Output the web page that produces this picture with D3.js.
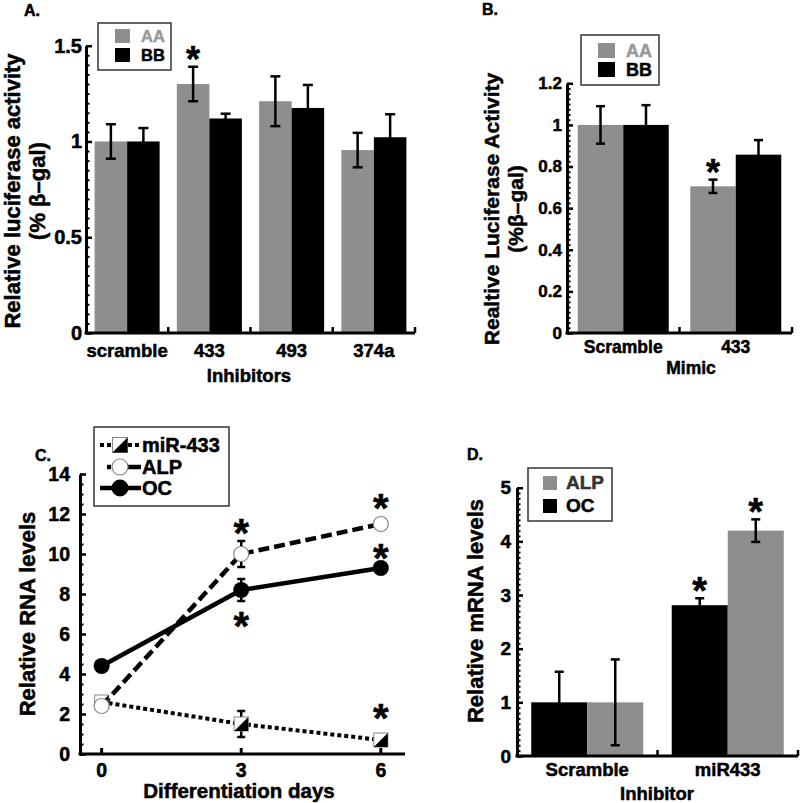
<!DOCTYPE html>
<html><head><meta charset="utf-8">
<script src="https://cdn.jsdelivr.net/npm/d3@7"></script>
<style>
body{margin:0;background:#fff}
svg text{font-family:"Liberation Sans",Arial,Helvetica,sans-serif;font-weight:bold}
</style>
</head><body>
<svg id="chart" width="800" height="803"></svg>
<script>
// ---------------- DATA ----------------
// Panel A
const catsA = ["scramble", "433", "493", "374a"];
const aaA = [1.0, 1.30, 1.21, 0.955];
const aaErrA = [0.09, 0.09, 0.13, 0.09];
const bbA = [1.0, 1.12, 1.175, 1.022];
const bbErrA = [0.07, 0.025, 0.12, 0.12];
const starA = [false, true, false, false];   // star above AA bar
const ticksA = [0, 0.5, 1, 1.5];
const tickLabelsA = ["0", "0.5", "1", "1.5"];

// Panel B
const catsB = ["Scramble", "433"];
const aaB = [1.0, 0.705];
const aaErrB = [0.09, 0.032];
const bbB = [1.0, 0.857];
const bbErrB = [0.095, 0.07];
const starB = [false, true];
const ticksB = [0, 0.2, 0.4, 0.6, 0.8, 1.0, 1.2];
const tickLabelsB = ["0", "0.2", "0.4", "0.6", "0.8", "1", "1.2"];

// Panel C
const daysC = [0, 3, 6];
const mirC = [2.6, 1.5, 0.7];
const mirErrC = [0, 0.65, 0];
const alpC = [2.4, 10.0, 11.5];
const alpErrC = [0, 0.65, 0.2];
const ocC = [4.4, 8.2, 9.3];
const ocErrC = [0, 0.55, 0.15];
const starDaysC = [3, 3, 6, 6, 6];
const starValsC = [11.45, 6.8, 12.7, 10.2, 2.2];
const ticksC = [0, 2, 4, 6, 8, 10, 12, 14];
const xTicksC = [0, 3, 6];

// Panel D
const catsD = ["Scramble", "miR433"];
const ocD = [1.0, 2.81];
const ocErrD = [0.57, 0.13];
const alpD = [1.0, 4.2];
const alpErrD = [0.8, 0.21];
const starOcD = [false, true];
const starAlpD = [false, true];
const ticksD = [0, 1, 2, 3, 4, 5];

// ---------------- DRAWING ----------------
const GRAY = "#8e8e8e";
const svg = d3.select("#chart");

function star(g, x, yc, fs) {
  g.append("text").attr("x", x).attr("y", yc + 0.56 * fs)
    .attr("text-anchor", "middle").attr("font-size", fs).attr("fill", "#000").text("*");
}

function yAxis(g, y, xLeft, ticks, labels, minorStep, fs, pad) {
  const ax = d3.axisLeft(y).tickValues(ticks).tickFormat((d, i) => labels[i])
    .tickSizeInner(-6).tickSizeOuter(0).tickPadding(pad);
  const ga = g.append("g").attr("transform", `translate(${xLeft},0)`).call(ax);
  ga.attr("font-size", fs).attr("font-family", null);
  ga.select(".domain").attr("stroke", "#000").attr("stroke-width", 3);
  ga.selectAll(".tick line").attr("stroke", "#000").attr("stroke-width", 2.5);
  ga.selectAll(".tick text").attr("fill", "#000");
  const [d0, d1] = y.domain();
  const minors = d3.range(d0, d1 + minorStep / 2, minorStep);
  const am = d3.axisLeft(y).tickValues(minors).tickFormat("").tickSizeInner(-3.5).tickSizeOuter(0);
  const gm = g.append("g").attr("transform", `translate(${xLeft},0)`).call(am);
  gm.select(".domain").remove();
  gm.selectAll(".tick line").attr("stroke", "#000").attr("stroke-width", 2);
}

function errBar(g, x, yTop, yBot, cap) {
  g.append("line").attr("x1", x).attr("x2", x).attr("y1", yTop).attr("y2", yBot)
    .attr("stroke", "#000").attr("stroke-width", 2.5);
  [yTop, yBot].forEach(yy => g.append("line").attr("x1", x - cap / 2).attr("x2", x + cap / 2)
    .attr("y1", yy).attr("y2", yy).attr("stroke", "#000").attr("stroke-width", 2.5));
}

function barPanel(cfg) {
  const g = svg.append("g");
  const y = d3.scaleLinear().domain([0, cfg.yMax]).range([cfg.yBottom, cfg.yTop]);
  const x = d3.scaleBand().domain(cfg.cats).range([cfg.xLeft, cfg.xRight]);
  const xs = d3.scaleBand().domain(cfg.series.map(s => s.key)).range([0, x.bandwidth()])
    .paddingInner(0).paddingOuter(cfg.pad);
  cfg.series.forEach(s => {
    g.selectAll(null).data(cfg.cats).join("rect")
      .attr("x", c => x(c) + xs(s.key)).attr("width", xs.bandwidth())
      .attr("y", (c, i) => y(s.vals[i])).attr("height", (c, i) => y(0) - y(s.vals[i]))
      .attr("fill", s.color);
  });
  cfg.series.forEach(s => {
    cfg.cats.forEach((c, i) => {
      const cx = x(c) + xs(s.key) + xs.bandwidth() / 2;
      errBar(g, cx, y(s.vals[i] + s.errs[i]), y(s.vals[i] - s.errs[i]), cfg.cap);
      if (s.stars && s.stars[i]) star(g, cx, y(s.vals[i] + s.errs[i]) - cfg.starGap, cfg.starFs);
    });
  });
  yAxis(g, y, cfg.xLeft, cfg.ticks, cfg.tickLabels, cfg.minor, cfg.tickFs, cfg.tickPad);
  // x axis
  g.append("line").attr("x1", cfg.xLeft - 1.5).attr("x2", cfg.xRight).attr("y1", y(0)).attr("y2", y(0))
    .attr("stroke", "#000").attr("stroke-width", 3);
  cfg.cats.forEach(c => {
    const bx = x(c) + x.bandwidth();
    g.append("line").attr("x1", bx).attr("x2", bx).attr("y1", y(0)).attr("y2", y(0) - 6)
      .attr("stroke", "#000").attr("stroke-width", 2.5);
    g.append("text").attr("x", x(c) + x.bandwidth() / 2).attr("y", cfg.catY)
      .attr("text-anchor", "middle").attr("font-size", cfg.catFs).text(c);
  });
  g.append("text").attr("x", cfg.xTitleX).attr("y", cfg.xTitleY).attr("text-anchor", "middle")
    .attr("font-size", cfg.catFs).text(cfg.xTitle);
  // y title
  cfg.yTitle.forEach((t, i) => {
    g.append("text").attr("transform", `translate(${cfg.yTitleX[i]},${cfg.yTitleCY}) rotate(-90)`)
      .attr("text-anchor", "middle").attr("dy", "0.35em").attr("font-size", cfg.yTitleFs).text(t);
  });
  // panel label
  g.append("text").attr("x", cfg.panelX).attr("y", cfg.panelY).attr("font-size", 16).text(cfg.panel);
  // legend
  const L = cfg.legend;
  g.append("rect").attr("x", L.x).attr("y", L.y).attr("width", L.w).attr("height", L.h)
    .attr("fill", "#fff").attr("stroke", "#333").attr("stroke-width", 1.5);
  L.items.forEach((it, i) => {
    g.append("rect").attr("x", L.sx).attr("y", L.sy[i]).attr("width", L.sw).attr("height", L.sh).attr("fill", it.color);
    g.append("text").attr("x", L.tx).attr("y", L.sy[i] + L.sh - 1).attr("font-size", L.fs)
      .attr("fill", it.textColor).text(it.label);
  });
}

// Panel A
barPanel({
  cats: catsA, yMax: 1.5, yBottom: 333, yTop: 45.7, xLeft: 86, xRight: 415, pad: 0.265,
  series: [{ key: "AA", vals: aaA, errs: aaErrA, color: GRAY, stars: starA },
           { key: "BB", vals: bbA, errs: bbErrA, color: "#000" }],
  cap: 10, starGap: 15, starFs: 36,
  ticks: ticksA, tickLabels: tickLabelsA, minor: 0.05, tickFs: 20, tickPad: 4,
  catY: 357, catFs: 18.5, xTitle: "Inhibitors", xTitleX: 249, xTitleY: 382,
  yTitle: ["Relative luciferase activity", "(% β–gal)"], yTitleX: [12, 37], yTitleCY: 191, yTitleFs: 22,
  panel: "A.", panelX: 24, panelY: 16,
  legend: { x: 98, y: 23, w: 73, h: 47, sx: 115, sy: [29, 48], sw: 15, sh: 14, tx: 141, fs: 16.5,
    items: [{ label: "AA", color: GRAY, textColor: "#9a9a9a" }, { label: "BB", color: "#000", textColor: "#000" }] }
});

// Panel B
barPanel({
  cats: catsB, yMax: 1.2, yBottom: 333, yTop: 83.3, xLeft: 567, xRight: 792, pad: 0.236,
  series: [{ key: "AA", vals: aaB, errs: aaErrB, color: GRAY, stars: starB },
           { key: "BB", vals: bbB, errs: bbErrB, color: "#000" }],
  cap: 9, starGap: 15, starFs: 36,
  ticks: ticksB, tickLabels: tickLabelsB, minor: 0.025, tickFs: 17, tickPad: 5,
  catY: 353, catFs: 17.5, xTitle: "Mimic", xTitleX: 691, xTitleY: 374,
  yTitle: ["Realtive Luciferase Activity", "(%β–gal)"], yTitleX: [492, 516], yTitleCY: 209, yTitleFs: 21,
  panel: "B.", panelX: 482, panelY: 15,
  legend: { x: 581, y: 35, w: 78, h: 50, sx: 598, sy: [43, 62], sw: 17, sh: 15, tx: 626, fs: 18,
    items: [{ label: "AA", color: GRAY, textColor: "#9a9a9a" }, { label: "BB", color: "#000", textColor: "#000" }] }
});

// Panel D
barPanel({
  cats: catsD, yMax: 5, yBottom: 756, yTop: 487.7, xLeft: 517, xRight: 798, pad: 0.254,
  series: [{ key: "OC", vals: ocD, errs: ocErrD, color: "#000", stars: starOcD },
           { key: "ALP", vals: alpD, errs: alpErrD, color: GRAY, stars: starAlpD }],
  cap: 9, starGap: 16, starFs: 38,
  ticks: ticksD, tickLabels: ticksD.map(String), minor: 0.1, tickFs: 19, tickPad: 6,
  catY: 776, catFs: 18.5, xTitle: "Inhibitor", xTitleX: 657, xTitleY: 800,
  yTitle: ["Relative mRNA levels"], yTitleX: [475], yTitleCY: 611, yTitleFs: 22,
  panel: "D.", panelX: 467, panelY: 460,
  legend: { x: 528, y: 468, w: 84, h: 53, sx: 543, sy: [476, 499], sw: 14, sh: 14, tx: 566, fs: 19,
    items: [{ label: "ALP", color: GRAY, textColor: "#333" }, { label: "OC", color: "#000", textColor: "#000" }] }
});

// Panel C
(function () {
  const g = svg.append("g");
  const x = d3.scaleLinear().domain([-0.465, 6.52]).range([80, 405]);
  const y = d3.scaleLinear().domain([0, 14]).range([754, 474]);
  const mk = vals => daysC.map((d, i) => ({ day: d, v: vals[i] }));
  const line = d3.line().x(d => x(d.day)).y(d => y(d.v));
  // lines
  g.append("path").attr("d", line(mk(mirC))).attr("fill", "none").attr("stroke", "#000")
    .attr("stroke-width", 4).attr("stroke-dasharray", "4,3");
  g.append("path").attr("d", line(mk(ocC))).attr("fill", "none").attr("stroke", "#000")
    .attr("stroke-width", 4.5);
  g.append("path").attr("d", line(mk(alpC))).attr("fill", "none").attr("stroke", "#000")
    .attr("stroke-width", 4.5).attr("stroke-dasharray", "11,5");
  // error bars
  [[mirC, mirErrC], [alpC, alpErrC], [ocC, ocErrC]].forEach(([v, e]) => {
    daysC.forEach((d, i) => { if (e[i] > 0) errBar(g, x(d), y(v[i] + e[i]), y(v[i] - e[i]), 8); });
  });
  // markers
  function mirMarker(cx, cy, s) {
    g.append("rect").attr("x", cx - s / 2).attr("y", cy - s / 2).attr("width", s).attr("height", s)
      .attr("fill", "#fff").attr("stroke", "#888").attr("stroke-width", 1);
    g.append("path").attr("d", `M${cx + s / 2},${cy - s / 2} L${cx + s / 2},${cy + s / 2} L${cx - s / 2},${cy + s / 2} Z`)
      .attr("fill", "#000");
  }
  daysC.forEach((d, i) => mirMarker(x(d), y(mirC[i]), 14));
  daysC.forEach((d, i) => g.append("circle").attr("cx", x(d)).attr("cy", y(ocC[i])).attr("r", 8).attr("fill", "#000"));
  daysC.forEach((d, i) => g.append("circle").attr("cx", x(d)).attr("cy", y(alpC[i])).attr("r", 7.5)
    .attr("fill", "#fff").attr("stroke", "#888").attr("stroke-width", 1.2));
  // stars
  starDaysC.forEach((d, i) => star(g, x(d), y(starValsC[i]), 40));
  // axes
  yAxis(g, y, 80, ticksC, ticksC.map(String), 0.5, 19.5, 10);
  g.append("line").attr("x1", 78.5).attr("x2", 405).attr("y1", y(0)).attr("y2", y(0))
    .attr("stroke", "#000").attr("stroke-width", 3);
  xTicksC.forEach(d => {
    g.append("line").attr("x1", x(d)).attr("x2", x(d)).attr("y1", y(0)).attr("y2", y(0) - 6)
      .attr("stroke", "#000").attr("stroke-width", 3);
    g.append("text").attr("x", x(d)).attr("y", 777).attr("text-anchor", "middle").attr("font-size", 19.5).text(d);
  });
  g.append("text").attr("x", 239).attr("y", 798).attr("text-anchor", "middle").attr("font-size", 20.5)
    .text("Differentiation days");
  g.append("text").attr("transform", "translate(27,614) rotate(-90)").attr("text-anchor", "middle")
    .attr("dy", "0.35em").attr("font-size", 22).text("Relative RNA levels");
  g.append("text").attr("x", 35).attr("y", 461).attr("font-size", 16).text("C.");
  // legend
  g.append("rect").attr("x", 94).attr("y", 427).attr("width", 135).attr("height", 79)
    .attr("fill", "#fff").attr("stroke", "#333").attr("stroke-width", 1.5);
  const ly = [445, 467, 488];
  g.append("line").attr("x1", 100).attr("x2", 141).attr("y1", ly[0]).attr("y2", ly[0])
    .attr("stroke", "#000").attr("stroke-width", 4).attr("stroke-dasharray", "4,3");
  mirMarker(120, ly[0], 15);
  g.append("line").attr("x1", 107).attr("x2", 111).attr("y1", ly[1]).attr("y2", ly[1])
    .attr("stroke", "#000").attr("stroke-width", 4.5);
  g.append("line").attr("x1", 127).attr("x2", 141).attr("y1", ly[1]).attr("y2", ly[1])
    .attr("stroke", "#000").attr("stroke-width", 4.5);
  g.append("circle").attr("cx", 120).attr("cy", ly[1]).attr("r", 8).attr("fill", "#fff")
    .attr("stroke", "#888").attr("stroke-width", 1.2);
  g.append("line").attr("x1", 100).attr("x2", 141).attr("y1", ly[2]).attr("y2", ly[2])
    .attr("stroke", "#000").attr("stroke-width", 4.5);
  g.append("circle").attr("cx", 120).attr("cy", ly[2]).attr("r", 8.5).attr("fill", "#000");
  ["miR-433", "ALP", "OC"].forEach((t, i) => g.append("text").attr("x", 142).attr("y", ly[i] + 7)
    .attr("font-size", 20).text(t));
})();

// slightly heavier lettering, as in the reference
svg.selectAll("text").each(function () {
  const f = this.getAttribute("fill") || "#000";
  d3.select(this).attr("stroke", f).attr("stroke-width", 0.5);
});
</script>
</body></html>
